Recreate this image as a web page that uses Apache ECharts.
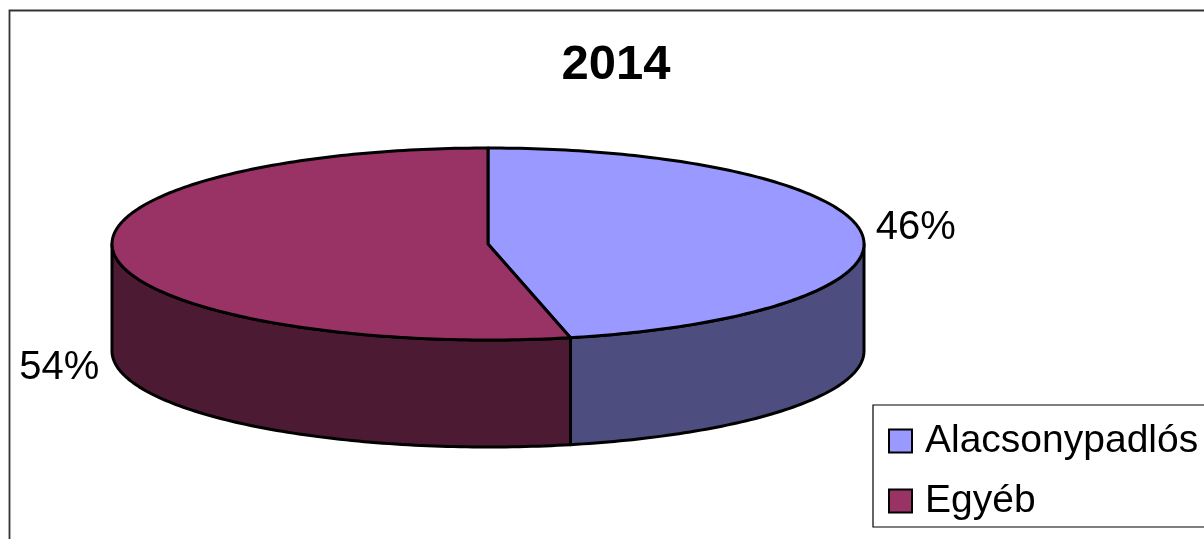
<!DOCTYPE html>
<html>
<head>
<meta charset="utf-8">
<style>html,body{margin:0;padding:0;background:#fff}#c{width:1204px;height:539px}</style>
<script src="https://cdn.jsdelivr.net/npm/echarts@6/dist/echarts.min.js"></script>
</head>
<body>
<div id="c"></div>
<script>
var titleText = '2014';
var categories = ['Alacsonypadlós', 'Egyéb'];
var values = [46.48, 53.52];
var topColors = ['#9999FF', '#993366'];
var sideColors = ['#4D4D80', '#4D1A33'];
var FONT = '"Liberation Sans", Arial, sans-serif';
var CX = 488, CY = 244, RX = 376, RY = 96, DEPTH = 107;

var total = values.reduce(function (a, b) { return a + b; }, 0);
function pt(deg, dy) {
  var r = deg * Math.PI / 180;
  return [CX + RX * Math.sin(r), CY - RY * Math.cos(r) + (dy || 0)];
}
function arc(a, b, dy) {
  var out = [], n = Math.max(2, Math.ceil(Math.abs(b - a)));
  for (var i = 0; i <= n; i++) out.push(pt(a + (b - a) * i / n, dy));
  return out;
}
function sliceRange(idx) {
  var s = 0;
  for (var i = 0; i < idx; i++) s += values[i];
  return [s / total * 360, (s + values[idx]) / total * 360];
}
var stroke = { stroke: '#000', lineWidth: 3, lineJoin: 'round' };
function makeRender(idx) {
  return function (params, api) {
    var val = api.value(0);
    var rg = sliceRange(idx), a = rg[0], b = rg[1];
    var children = [];
    var sa = Math.max(a, 90), sb = Math.min(b, 270);
    if (sb > sa) {
      var upper = arc(sa, sb, 0), lower = arc(sb, sa, DEPTH);
      children.push({
        type: 'polygon',
        shape: { points: upper.concat(lower) },
        style: Object.assign({ fill: sideColors[idx] }, stroke)
      });
    }
    children.push({
      type: 'polygon',
      shape: { points: [[CX, CY]].concat(arc(a, b, 0)) },
      style: Object.assign({ fill: topColors[idx] }, stroke)
    });
    var mid = (a + b) / 2, m = pt(mid, 0), rad = mid * Math.PI / 180;
    var lx = m[0] + (Math.sin(rad) >= 0 ? 54 : -55);
    var ly = m[1] + (Math.cos(rad) >= 0 ? -5 : DEPTH + 6);
    children.push({
      type: 'text',
      style: {
        x: lx, y: ly,
        text: Math.round(val) + '%',
        font: '40px ' + FONT,
        fill: '#000',
        align: 'center',
        verticalAlign: 'middle'
      }
    });
    return { type: 'group', children: children };
  };
}
var chart = echarts.init(document.getElementById('c'), null, { width: 1204, height: 539 });
chart.setOption({
  animation: false,
  backgroundColor: '#fff',
  title: {
    text: titleText,
    left: 611,
    textAlign: 'center',
    top: 33,
    textStyle: { fontFamily: FONT, fontSize: 49, fontWeight: 'bold', color: '#000', lineHeight: 54 }
  },
  graphic: [{
    type: 'rect', silent: true, z: -1,
    shape: { x: 9.5, y: 10.5, width: 1300, height: 600 },
    style: { fill: 'none', stroke: '#333', lineWidth: 1.8 }
  }],
  legend: {
    orient: 'vertical',
    left: 873,
    top: 405,
    padding: [14, 60, 4, 15],
    selectedMode: false,
    backgroundColor: '#fff',
    borderColor: '#000',
    borderWidth: 1.2,
    borderRadius: 0,
    icon: 'rect',
    itemWidth: 23,
    itemHeight: 23,
    itemGap: 16,
    textStyle: { fontFamily: FONT, fontSize: 39, color: '#000', lineHeight: 44, padding: [0, 0, 0, 8] },
    data: categories.map(function (n) { return { name: n, itemStyle: { borderColor: '#000', borderWidth: 2 } }; })
  },
  series: categories.map(function (name, i) {
    return {
      type: 'custom',
      name: name,
      coordinateSystem: 'none',
      silent: true,
      itemStyle: { color: topColors[i] },
      renderItem: makeRender(i),
      data: [[values[i]]]
    };
  })
});
</script>
</body>
</html>
